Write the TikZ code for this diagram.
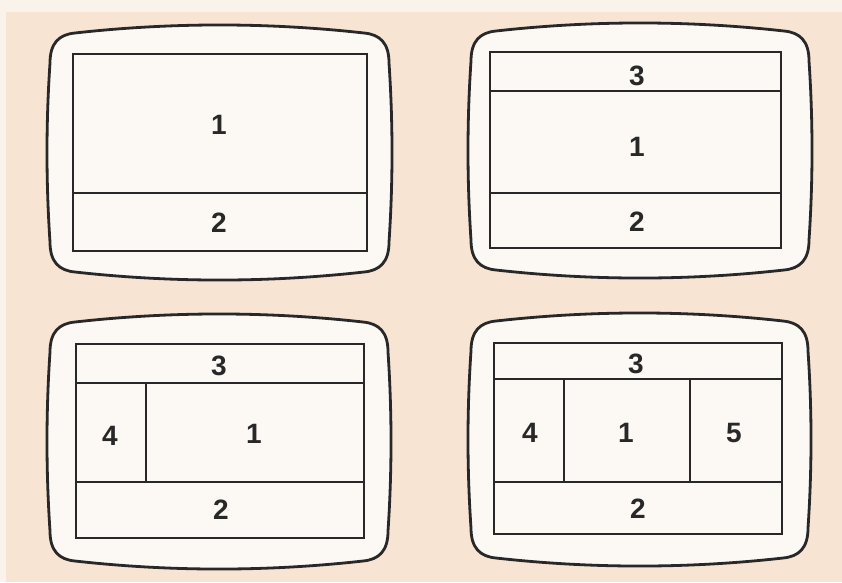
\documentclass[tikz,border=0pt]{standalone}
\usepackage{fontspec}
\setsansfont{Liberation Sans}
\definecolor{paper}{RGB}{247,228,211}
\definecolor{paperlight}{RGB}{250,243,236}
\definecolor{screen}{RGB}{252,249,245}
\definecolor{ink}{RGB}{40,40,40}
\tikzset{
  tvout/.style={draw=ink, line width=2.8pt, fill=screen, line join=round},
  panel/.style={draw=ink, line width=1.4pt},
  num/.style={font=\fontsize{28}{30}\selectfont\sffamily\bfseries, text=ink, inner sep=0pt}
}
\newcommand\tvshape[4]{% L T R B
  \pgfmathsetmacro\tvw{(#3-#1-56)/3}
  \pgfmathsetmacro\tvh{(#4-#2-76)/3}
  \draw[tvout]
    ({#1+28},{#2+8}) .. controls ({#1+28+\tvw},{#2-2.7}) and ({#3-28-\tvw},{#2-2.7}) .. ({#3-28},{#2+8})
    .. controls ({#3-12},{#2+9.5}) and ({#3-3},{#2+18}) .. ({#3-3},{#2+38})
    .. controls ({#3+1},{#2+38+\tvh}) and ({#3+1},{#4-38-\tvh}) .. ({#3-3},{#4-38})
    .. controls ({#3-3},{#4-18}) and ({#3-12},{#4-9.5}) .. ({#3-28},{#4-8})
    .. controls ({#3-28-\tvw},{#4+2.7}) and ({#1+28+\tvw},{#4+2.7}) .. ({#1+28},{#4-8})
    .. controls ({#1+12},{#4-9.5}) and ({#1+3},{#4-18}) .. ({#1+3},{#4-38})
    .. controls ({#1-1},{#4-38-\tvh}) and ({#1-1},{#2+38+\tvh}) .. ({#1+3},{#2+38})
    .. controls ({#1+3},{#2+18}) and ({#1+12},{#2+9.5}) .. cycle;
}
\begin{document}
\begin{tikzpicture}[x=1pt,y=-1pt]
\useasboundingbox (0,0) rectangle (842,582);
\fill[paper] (0,0) rectangle (842,582);
\fill[paperlight] (0,0) rectangle (842,12);
\fill[paperlight] (0,0) rectangle (6,582);

% ---- top left
\tvshape{47}{25}{392}{280}
\draw[panel] (73,54) rectangle (367,251);
\draw[panel] (73,193) -- (367,193);
\node[num] (a1) at (219,125) {1};
\node[num] (a2) at (219,223) {2};

% ---- top right
\tvshape{468}{23}{812}{278}
\draw[panel] (490,52) rectangle (781,248);
\draw[panel] (490,91) -- (781,91);
\draw[panel] (490,193) -- (781,193);
\node[num] (b3) at (637,76) {3};
\node[num] (b1) at (637,147) {1};
\node[num] (b2) at (637,222) {2};

% ---- bottom left
\tvshape{47}{314}{391}{569}
\draw[panel] (76,344) rectangle (364,538);
\draw[panel] (76,383) -- (364,383);
\draw[panel] (76,482) -- (364,482);
\draw[panel] (146,383) -- (146,482);
\node[num] (c3) at (219,366) {3};
\node[num] (c4) at (110,436) {4};
\node[num] (c1) at (254,434) {1};
\node[num] (c2) at (221,510) {2};

% ---- bottom right
\tvshape{468}{313}{811}{566}
\draw[panel] (494,343) rectangle (782,534);
\draw[panel] (494,379) -- (782,379);
\draw[panel] (494,482) -- (782,482);
\draw[panel] (564,379) -- (564,482);
\draw[panel] (690,379) -- (690,482);
\node[num] (d3) at (636,364) {3};
\node[num] (d4) at (530,433) {4};
\node[num] (d1) at (626,433) {1};
\node[num] (d5) at (734,433) {5};
\node[num] (d2) at (638,509) {2};
\end{tikzpicture}
\end{document}
